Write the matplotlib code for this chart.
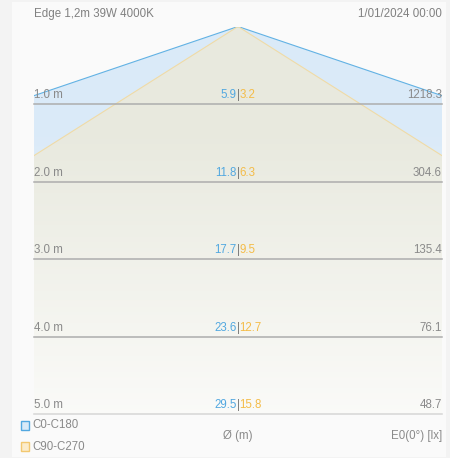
import numpy as np
import matplotlib
matplotlib.use("Agg")
import matplotlib.pyplot as plt
from matplotlib.patches import Polygon, Rectangle

plt.rcParams['font.family'] = ['Liberation Sans', 'DejaVu Sans']

# data
title = "Edge 1,2m 39W 4000K"
date_text = "1/01/2024 00:00"
distances = [1.0, 2.0, 3.0, 4.0, 5.0]
diam_c0 = [5.9, 11.8, 17.7, 23.6, 29.5]      # C0-C180
diam_c90 = [3.2, 6.3, 9.5, 12.7, 15.8]       # C90-C270
e0 = [1218.3, 304.6, 135.4, 76.1, 48.7]
series_names = ["C0-C180", "C90-C270"]

W, H = 450, 458
fig = plt.figure(figsize=(W / 100, H / 100), dpi=100)
fig.patch.set_facecolor('#f3f3f3')

# card background
bg = fig.add_axes([0, 0, 1, 1])
bg.set_xlim(0, W)
bg.set_ylim(H, 0)
bg.axis('off')
bg.add_patch(Rectangle((12, 2), 434, 455, facecolor='#fafafa', edgecolor='none'))

# main plot area in metres (equal scale both ways)
px_per_m = 77.5
left_px, right_px = 34, 442
top_px = 414 - 5 * px_per_m
half_w = (right_px - left_px) / 2 / px_per_m
ax = fig.add_axes([left_px / W, 1 - 414 / H, (right_px - left_px) / W, (414 - top_px) / H])
ax.set_xlim(-half_w, half_w)
ax.set_ylim(5, 0)
ax.axis('off')

blue_line = '#62b2e4'
blue_fill = '#daeaf8'
yel_line = '#f0dba6'
yel_fill = '#e8e9de'
blue_txt = '#52a8e0'
yel_txt = '#f4bc48'
gray_txt = '#8a8a8a'

h = distances[-1]
ax.add_patch(Polygon([(0, 0), (-diam_c0[-1] / 2, h), (diam_c0[-1] / 2, h)],
                     closed=True, facecolor=blue_fill, edgecolor='none', zorder=1))
ax.add_patch(Polygon([(0, 0), (-diam_c90[-1] / 2, h), (diam_c90[-1] / 2, h)],
                     closed=True, facecolor=yel_fill, edgecolor='none', zorder=2))

# fade to white towards the bottom
yy = np.linspace(0, 5, 200)
grad = np.ones((200, 1, 4))
grad[:, 0, 3] = np.clip((yy - 1.3) / 3.7, 0, 1) * 0.8
ax.imshow(grad, extent=(-half_w, half_w, 5, 0), aspect='auto', zorder=3,
          interpolation='bilinear')

ax.plot([-diam_c0[-1] / 2, 0, diam_c0[-1] / 2], [h, 0, h], color=blue_line, lw=0.8, zorder=4)
ax.plot([-diam_c90[-1] / 2, 0, diam_c90[-1] / 2], [h, 0, h], color=yel_line, lw=0.8, zorder=4)

fs = 8.3
for d, b, y, e in zip(distances, diam_c0, diam_c90, e0):
    lc = '#d6d6d6' if d == distances[-1] else '#adadad'
    ax.plot([-half_w, half_w], [d, d], color=lc, lw=1.1, zorder=5, clip_on=False)
    ty = d - 0.035
    ax.text(-half_w, ty, f"{d:.1f} m", ha='left', va='bottom', fontsize=fs, color=gray_txt, zorder=6)
    ax.text(half_w, ty, f"{e:.1f}", ha='right', va='bottom', fontsize=fs, color=gray_txt, zorder=6)
    ax.text(-0.02, ty, f"{b:.1f}", ha='right', va='bottom', fontsize=fs, color=blue_txt, zorder=6)
    ax.text(0, ty, "|", ha='center', va='bottom', fontsize=fs, color='#707070', zorder=6)
    ax.text(0.02, ty, f"{y:.1f}", ha='left', va='bottom', fontsize=fs, color=yel_txt, zorder=6)

# header
bg.text(left_px, 14, title, ha='left', va='center', fontsize=fs, color='#808080')
bg.text(right_px, 14, date_text, ha='right', va='center', fontsize=fs, color='#808080')

# footer legend and axis captions
bg.add_patch(Rectangle((21, 421), 8, 9, facecolor='#d8eaf8', edgecolor=blue_txt, lw=1.0))
bg.add_patch(Rectangle((21, 442), 8, 9, facecolor='#fbeccb', edgecolor='#f2c870', lw=1.0))
bg.text(32, 425.5, series_names[0], ha='left', va='center', fontsize=fs, color=gray_txt)
bg.text(32, 447, series_names[1], ha='left', va='center', fontsize=fs, color=gray_txt)
bg.text(238, 436, "Ø (m)", ha='center', va='center', fontsize=fs, color=gray_txt)
bg.text(right_px, 436, "E0(0°) [lx]", ha='right', va='center', fontsize=fs, color=gray_txt)

fig.savefig("out.png", dpi=100, facecolor=fig.get_facecolor())
